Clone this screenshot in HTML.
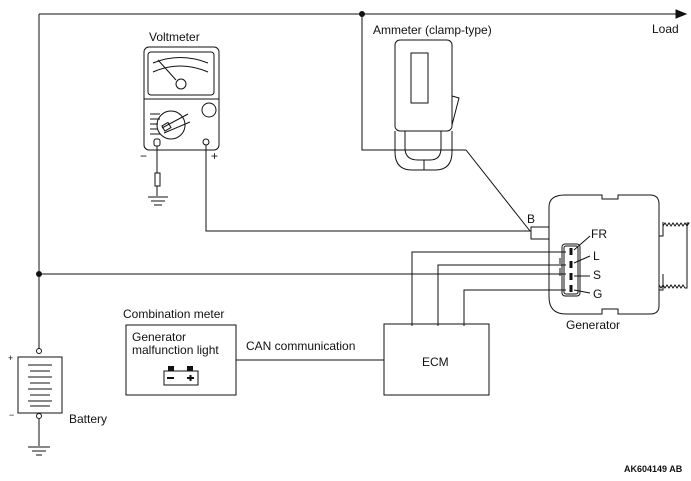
<!DOCTYPE html>
<html><head><style>body{margin:0;background:#fff}svg{display:block}text{font-family:"Liberation Sans",sans-serif;font-size:12px;fill:#111}</style></head>
<body><svg width="691" height="481" viewBox="0 0 691 481" xmlns="http://www.w3.org/2000/svg">
<g stroke="#111" stroke-width="1" fill="none">
<path d="M39 14H676"/><path d="M676 10L686 14L676 18Z" fill="#111"/>
<path d="M39 14V350"/>
<path d="M39 274H566"/>
<path d="M362 14V150H466L530 231"/>
<path d="M206 145V231H531"/>
<path d="M412 326V252H566M438 326V265H566M464 326V290H566"/>
<path d="M236 360H384"/>
<rect x="384" y="324" width="105" height="71"/>
<rect x="126" y="325" width="110" height="70"/>
<rect x="18" y="357" width="44" height="56"/>
<path d="M28 365H52M30 371H50M28 377H52M30 383H50M28 389H52M30 395H50M28 401H52M30 406H50"/>
<circle cx="39" cy="351" r="2.5" fill="#fff"/><circle cx="39" cy="416" r="2.5" fill="#fff"/>
<path d="M39 419V446M28 447H50M32 451H46M36 455H42"/>
<rect x="144" y="47" width="75" height="103" rx="5"/>
<rect x="148" y="52" width="66" height="43" rx="3"/>
<path d="M144 99H219"/>
<path d="M153 63Q180 52 208 63M153 72Q180 60 208 72M158 60L176 80"/>
<circle cx="181" cy="84" r="5"/>
<circle cx="171" cy="125" r="14"/>
<path d="M162 128L188 114M164 133L190 122"/>
<rect x="163" y="124" width="7" height="6" transform="rotate(-30 166 127)"/>
<circle cx="209" cy="110" r="7"/>
<path d="M150 114H160M150 119H160M150 124H158M150 129H158M150 134H160"/>
<rect x="154" y="139" width="6" height="7" rx="2"/><circle cx="206" cy="142" r="3"/>
<path d="M157 146V173"/><rect x="155" y="173" width="5" height="13"/><path d="M157 186V196M148 197H168M151 201H165M154 205H162"/>
<rect x="395" y="40" width="57" height="91" rx="5"/>
<rect x="411" y="53" width="17" height="50"/>
<path d="M452 96L459 98L452 125"/>
<path d="M395 131V152Q395 170 412 170H435Q452 170 452 152V131"/>
<path d="M405 131V148Q405 160 418 160H430Q441 160 441 148V131M424 160V170"/>
<rect x="531" y="227" width="18" height="12"/>
<path d="M549 207Q549 195 565 195H602V199H618V195H650Q659 195 659 204V306Q659 314 650 314H618V309H602V314H566Q549 314 549 297Z"/>
<rect x="562" y="244" width="18" height="52" rx="3"/>
<rect x="564" y="246" width="14" height="48" rx="2"/>
<path d="M571 248v7M571 261v7M571 273v7M571 285v7" stroke-width="3"/>
<path d="M560 258v6M560 268v8"/>
<path d="M574 250L590 236M574 263L590 256M574 276H590M574 290L590 293"/>
<path d="M659 222V236H663V222"/>
<path d="M659 274V290H663V274"/>
<path d="M663 226l2-3 2 3 2-3 2 3 2-3 2 3 2-3 2 3 2-3 2 3 2-3 2 3 2-3H687V288H685l-2-3-2 3-2-3-2 3-2-3-2 3-2-3-2 3-2-3-2 3-2-3-2 3-2-3"/>
</g>
<circle cx="39" cy="274" r="3" fill="#111"/><circle cx="362" cy="14" r="3" fill="#111"/>
<g stroke="#111" fill="none"><rect x="164" y="371" width="34" height="14"/></g>
<rect x="168" y="366" width="6" height="5" fill="#111"/><rect x="187" y="366" width="6" height="5" fill="#111"/>
<rect x="167" y="377" width="7" height="2" fill="#111"/><rect x="187" y="377" width="7" height="2" fill="#111"/><rect x="189.5" y="375" width="2" height="6" fill="#111"/>
<text x="652" y="33">Load</text>
<text x="373" y="34">Ammeter (clamp-type)</text>
<text x="149" y="41">Voltmeter</text>
<text x="140" y="160">−</text><text x="211" y="160">+</text>
<text x="527" y="223">B</text>
<text x="591" y="238">FR</text><text x="593" y="260">L</text><text x="593" y="279">S</text><text x="593" y="298">G</text>
<text x="566" y="329">Generator</text>
<text x="123" y="318">Combination meter</text>
<text x="132" y="341">Generator</text><text x="132" y="354">malfunction light</text>
<text x="246" y="350">CAN communication</text>
<text x="422" y="366">ECM</text>
<text x="8" y="361" style="font-size:9px">+</text><text x="9" y="418" style="font-size:9px">−</text>
<text x="69" y="423">Battery</text>
<text x="624" y="472" style="font-size:9px;font-weight:bold">AK604149 AB</text>
</svg></body></html>
